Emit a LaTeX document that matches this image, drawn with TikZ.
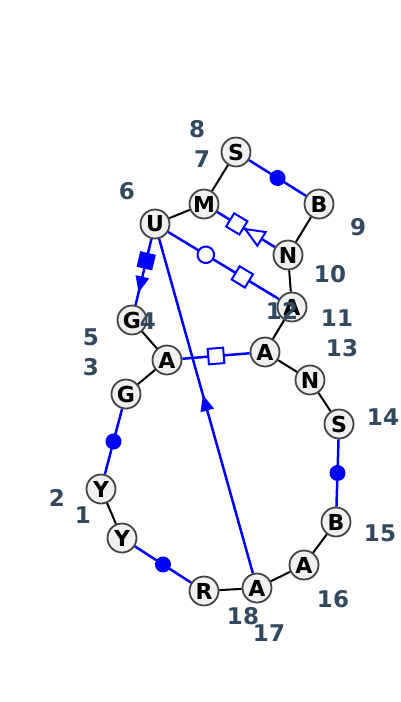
\documentclass[tikz,border=0pt]{standalone}
\usepackage{fontspec}
\setmainfont{DejaVu Sans}
\usetikzlibrary{shapes.geometric}
\definecolor{numcol}{HTML}{34495E}
\definecolor{ntfill}{HTML}{F0F0F0}
\definecolor{ntline}{HTML}{444444}

\begin{document}
\begin{tikzpicture}[x=1pt, y=-1pt,
    nt/.style={circle, draw=ntline, fill=ntfill, line width=1.8pt, minimum size=29pt, inner sep=0pt, font=\fontsize{22}{22}\selectfont\bfseries},
    num/.style={text=numcol, inner sep=0pt, font=\fontsize{23}{23}\selectfont\bfseries},
    bb/.style={black, line width=2pt},
    bp/.style={blue, line width=2.5pt},
    mk/.style={sloped, allow upside down, inner sep=0pt, line width=2pt},
    fdot/.style={mk, circle, fill=blue, minimum size=16pt},
    odot/.style={mk, circle, draw=blue, fill=white, minimum size=16.5pt},
    osq/.style={mk, rectangle, draw=blue, fill=white, minimum size=15.5pt},
    fsq/.style={mk, rectangle, fill=blue, minimum size=16pt},
    otri/.style={mk, isosceles triangle, isosceles triangle stretches, draw=blue, fill=white, minimum width=16pt, minimum height=19pt},
    ftri/.style={mk, isosceles triangle, isosceles triangle stretches, fill=blue, minimum width=14pt, minimum height=16pt}]
    \useasboundingbox (0,0) rectangle (400,702);
    % bases
    \node[nt] (y1) at (122,538) {Y};
    \node[nt] (y2) at (101,489) {Y};
    \node[nt] (g3) at (126,394) {G};
    \node[nt] (g4) at (132,320) {G};
    \node[nt] (a5) at (167,360) {A};
    \node[nt] (u6) at (155,224) {U};
    \node[nt] (m7) at (204,204) {M};
    \node[nt] (s8) at (236,152) {S};
    \node[nt] (b9) at (319,204) {B};
    \node[nt] (n10) at (288,255) {N};
    \node[nt] (a11) at (292,307) {A};
    \node[nt] (a12) at (265,352) {A};
    \node[nt] (n13) at (310,380) {N};
    \node[nt] (s14) at (339,424) {S};
    \node[nt] (b15) at (336,522) {B};
    \node[nt] (a16) at (304,565) {A};
    \node[nt] (a17) at (257,588) {A};
    \node[nt] (r18) at (204,591) {R};
    % backbone
    \draw[bb] (y1) -- (y2);
    \draw[bb] (g3) -- (a5) -- (g4);
    \draw[bb] (u6) -- (m7) -- (s8);
    \draw[bb] (b9) -- (n10) -- (a11) -- (a12) -- (n13) -- (s14);
    \draw[bb] (b15) -- (a16) -- (a17) -- (r18);
    % pairs
    \draw[bp] (y2) -- node[fdot]{} (g3);
    \draw[bp] (y1) -- node[fdot]{} (r18);
    \draw[bp] (s14) -- node[fdot]{} (b15);
    \draw[bp] (s8) -- node[fdot]{} (b9);
    \draw[bp] (a5) -- node[osq]{} (a12);
    \draw[bp] (u6) -- node[fsq, pos=.33]{} node[ftri, pos=.64]{} (g4);
    \draw[bp] (m7) -- node[osq, pos=.34]{} node[otri, pos=.69, shape border rotate=180]{} (n10);
    \draw[bp] (u6) -- node[odot, pos=.34]{} node[osq, pos=.67]{} (a11);
    \draw[bp] (a17) -- node[ftri]{} (u6);
    % numbers
    \foreach \t/\x/\y in {1/83/515, 2/57/498, 3/91/367, 4/148/321, 5/91/337, 6/127/191,
        7/202/159, 8/197/129, 9/358/227, 10/330/274, 11/337/318, 12/282/311,
        13/342/348, 14/383/417, 15/380/533, 16/333/599, 17/269/633, 18/243/616}
        \node[num] (l\t) at (\x,\y) {\t};
\end{tikzpicture}
\end{document}
